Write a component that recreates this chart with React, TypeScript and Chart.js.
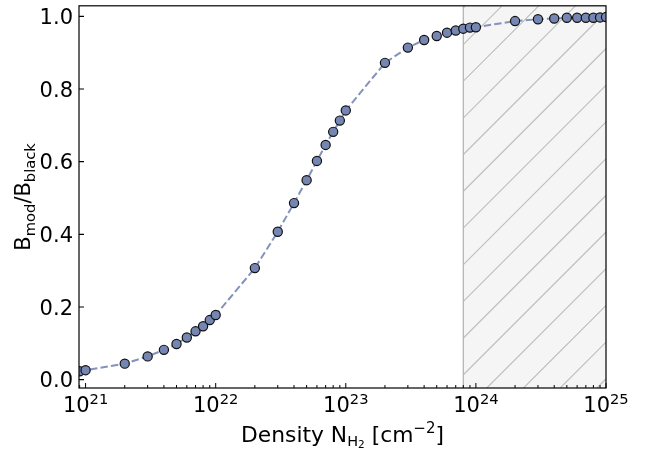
import React, { useEffect, useRef } from "react";
import { Chart, registerables } from "chart.js";

Chart.register(...registerables);

// ---- data ----
const densities = [
  9e20, 1e21, 2e21, 3e21, 4e21, 5e21, 6e21, 7e21, 8e21, 9e21,
  1e22, 2e22, 3e22, 4e22, 5e22, 6e22, 7e22, 8e22, 9e22,
  1e23, 2e23, 3e23, 4e23, 5e23, 6e23, 7e23, 8e23, 9e23,
  1e24, 2e24, 3e24, 4e24, 5e24, 6e24, 7e24, 8e24, 9e24, 1e25,
];
const ratios = [
  0.023, 0.026, 0.044, 0.064, 0.082, 0.098, 0.116, 0.133, 0.147, 0.164,
  0.178, 0.307, 0.407, 0.486, 0.549, 0.602, 0.646, 0.682, 0.713,
  0.741, 0.872, 0.914, 0.935, 0.946, 0.955, 0.961, 0.966, 0.969,
  0.970, 0.987, 0.992, 0.994, 0.996, 0.996, 0.996, 0.996, 0.997, 0.998,
];
const yTickValues = [0, 0.2, 0.4, 0.6, 0.8, 1.0];
const yTickLabels = ["0.0", "0.2", "0.4", "0.6", "0.8", "1.0"];
const xMajorExponents = [21, 22, 23, 24, 25];
const xMin = 8.9e20;
const xMax = 1e25;
const yMin = -0.023;
const yMax = 1.029;
const hatchStart = 8e23;

const FONT = '"DejaVu Sans", sans-serif';
const FS = 21;
const FSL = 21.8;

type Seg = { t: string; s: number; dy: number };

function segWidth(ctx: CanvasRenderingContext2D, segs: Seg[]) {
  let w = 0;
  for (const g of segs) {
    ctx.font = `${g.s}px ${FONT}`;
    w += ctx.measureText(g.t).width;
  }
  return w;
}

function drawSegs(ctx: CanvasRenderingContext2D, segs: Seg[], x: number, y: number) {
  let cx = x;
  ctx.textAlign = "left";
  ctx.textBaseline = "alphabetic";
  for (const g of segs) {
    ctx.font = `${g.s}px ${FONT}`;
    ctx.fillText(g.t, cx, y + g.dy);
    cx += ctx.measureText(g.t).width;
  }
}

const axesPlugin = {
  id: "mplAxes",
  beforeDatasetsDraw(chart: any) {
    const { ctx, chartArea: a, scales } = chart;
    const x0 = scales.x.getPixelForValue(hatchStart);
    ctx.save();
    ctx.fillStyle = "#f5f5f5";
    ctx.fillRect(x0, a.top, a.right - x0, a.bottom - a.top);
    ctx.beginPath();
    ctx.rect(x0, a.top, a.right - x0, a.bottom - a.top);
    ctx.clip();
    ctx.strokeStyle = "#bdbdbd";
    ctx.lineWidth = 1.1;
    const sp = 36.7;
    const c = 30.7;
    const kmin = Math.floor((x0 + a.top - c) / sp) - 1;
    const kmax = Math.ceil((a.right + a.bottom - c) / sp) + 1;
    ctx.beginPath();
    for (let k = kmin; k <= kmax; k++) {
      const sum = k * sp + c;
      ctx.moveTo(sum - a.bottom, a.bottom);
      ctx.lineTo(sum - a.top, a.top);
    }
    ctx.stroke();
    ctx.restore();
    ctx.save();
    ctx.strokeStyle = "#b0b0b0";
    ctx.lineWidth = 1.2;
    ctx.beginPath();
    ctx.moveTo(x0, a.top);
    ctx.lineTo(x0, a.bottom);
    ctx.stroke();
    ctx.restore();
  },
  afterDraw(chart: any) {
    const { ctx, chartArea: a, scales } = chart;
    const xs = scales.x;
    const ys = scales.y;
    ctx.save();
    // spines
    ctx.strokeStyle = "#000";
    ctx.lineWidth = 1.2;
    ctx.strokeRect(a.left, a.top, a.right - a.left, a.bottom - a.top);

    // y ticks + labels
    ctx.fillStyle = "#000";
    ctx.beginPath();
    yTickValues.forEach((v) => {
      const py = ys.getPixelForValue(v);
      ctx.moveTo(a.left, py);
      ctx.lineTo(a.left + 5, py);
    });
    ctx.stroke();
    ctx.font = `${FS}px ${FONT}`;
    ctx.textAlign = "right";
    ctx.textBaseline = "alphabetic";
    yTickValues.forEach((v, i) => {
      const py = ys.getPixelForValue(v);
      ctx.fillText(yTickLabels[i], a.left - 6, py + 7.6);
    });

    // x ticks
    ctx.beginPath();
    ctx.lineWidth = 1;
    for (let d = 20; d <= 25; d++) {
      for (let k = 1; k <= 9; k++) {
        const v = k * Math.pow(10, d);
        if (v < xMin * 0.999 || v > xMax * 1.001) continue;
        const px = xs.getPixelForValue(v);
        const len = k === 1 ? 5 : 3;
        ctx.moveTo(px, a.bottom);
        ctx.lineTo(px, a.bottom - len);
      }
    }
    ctx.stroke();

    // x tick labels 10^n
    xMajorExponents.forEach((e) => {
      const px = xs.getPixelForValue(Math.pow(10, e));
      const segs: Seg[] = [
        { t: "10", s: FS, dy: 0 },
        { t: String(e), s: 14.7, dy: -8.5 },
      ];
      const w = segWidth(ctx, segs);
      drawSegs(ctx, segs, px - w / 2, 412);
    });

    // x axis label
    const xl: Seg[] = [
      { t: "Density N", s: FSL, dy: 0 },
      { t: "H", s: 14.5, dy: 3.5 },
      { t: "2", s: 10.5, dy: 6 },
      { t: " [cm", s: FSL, dy: 0 },
      { t: "\u22122", s: 15, dy: -9 },
      { t: "]", s: FSL, dy: 0 },
    ];
    const xw = segWidth(ctx, xl);
    drawSegs(ctx, xl, (a.left + a.right) / 2 - xw / 2, 442);

    // y axis label (rotated)
    const yl: Seg[] = [
      { t: "B", s: FS, dy: 0 },
      { t: "mod", s: 14.7, dy: 4.5 },
      { t: "/B", s: FS, dy: 0 },
      { t: "black", s: 14.7, dy: 4.5 },
    ];
    const yw = segWidth(ctx, yl);
    ctx.translate(30, (a.top + a.bottom) / 2);
    ctx.rotate(-Math.PI / 2);
    drawSegs(ctx, yl, -yw / 2, 0);
    ctx.restore();
  },
};

export default function App() {
  const ref = useRef<HTMLCanvasElement | null>(null);
  useEffect(() => {
    document.body.style.margin = "0";
    const canvas = ref.current;
    if (!canvas) return;
    const points = densities.map((d, i) => ({ x: d, y: ratios[i] }));
    const chart = new Chart(canvas, {
      type: "line",
      data: {
        datasets: [
          {
            data: points,
            borderColor: "#8492bc",
            borderWidth: 2,
            borderDash: [7.4, 3.2],
            pointRadius: 4.6,
            pointHoverRadius: 4.6,
            pointBackgroundColor: "#7686b2",
            pointBorderColor: "#111111",
            pointBorderWidth: 1.2,
            tension: 0,
            clip: 0,
          } as any,
        ],
      },
      options: {
        animation: false,
        responsive: false,
        devicePixelRatio: 1,
        layout: { padding: { left: 79, right: 49, top: 1, bottom: 66 } },
        plugins: { legend: { display: false }, tooltip: { enabled: false } },
        events: [],
        scales: {
          x: { type: "logarithmic", min: xMin, max: xMax, display: false },
          y: { type: "linear", min: yMin, max: yMax, display: false },
        },
      },
      plugins: [axesPlugin],
    });
    return () => chart.destroy();
  }, []);
  return (
    <div style={{ width: 655, height: 454 }}>
      <canvas ref={ref} width={655} height={454} style={{ display: "block" }} />
    </div>
  );
}
